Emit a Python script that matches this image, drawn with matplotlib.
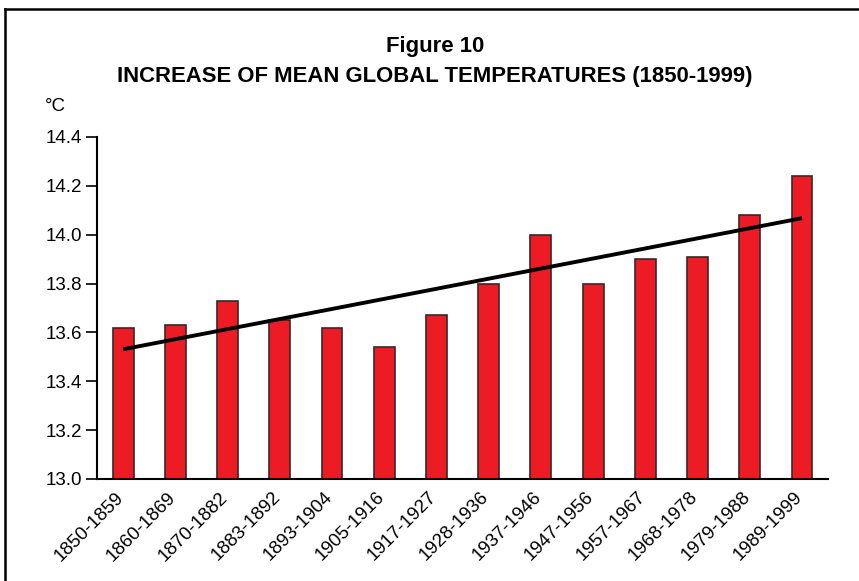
import numpy as np
import matplotlib
matplotlib.use('Agg')
import matplotlib.pyplot as plt
from matplotlib.lines import Line2D
from matplotlib.transforms import ScaledTranslation

periodos = ['1850-1859', '1860-1869', '1870-1882', '1883-1892', '1893-1904',
            '1905-1916', '1917-1927', '1928-1936', '1937-1946', '1947-1956',
            '1957-1967', '1968-1978', '1979-1988', '1989-1999']
temperaturas = [13.62, 13.63, 13.73, 13.65, 13.62, 13.54, 13.67,
                13.80, 14.00, 13.80, 13.90, 13.91, 14.08, 14.24]
y_ticks = [13.0, 13.2, 13.4, 13.6, 13.8, 14.0, 14.2, 14.4]

plt.rcParams['font.family'] = ['Liberation Sans', 'DejaVu Sans']

fig = plt.figure(figsize=(8.59, 5.81), dpi=100)
ax = fig.add_axes([0.113, 0.1756, 0.851, 0.5886])

x = np.arange(len(periodos))
ax.bar(x, [t - 13.0 for t in temperaturas], bottom=13.0, width=0.4,
       color='#ED1C24', edgecolor='#3b2626', linewidth=1.2)

# linea de tendencia (regresion lineal)
m, b = np.polyfit(x, temperaturas, 1)
ax.plot(x, m * x + b, color='black', linewidth=2.8, solid_capstyle='butt')

ax.set_xlim(-0.5, len(periodos) - 0.5)
ax.set_ylim(13.0, 14.4)
ax.set_yticks(y_ticks)
ax.set_yticklabels([f'{v:.1f}' for v in y_ticks], fontsize=13.5)
ax.set_xticks(x)
ax.tick_params(axis='x', length=0, pad=7)
ax.tick_params(axis='y', length=8, width=1.2, direction='out', pad=3)
ax.set_xticklabels(periodos, rotation=45, ha='right', rotation_mode='anchor',
                   fontsize=13.5)
offset = ScaledTranslation(-6 / 72, 0, fig.dpi_scale_trans)
for lbl in ax.get_xticklabels():
    lbl.set_transform(lbl.get_transform() + offset)
ax.spines['top'].set_visible(False)
ax.spines['right'].set_visible(False)
ax.spines['left'].set_linewidth(1.5)
ax.spines['bottom'].set_linewidth(1.5)

fig.text(0.506, 0.920, 'Figure 10', ha='center', va='center',
         fontsize=15.9, fontweight='bold')
fig.text(0.506, 0.868, 'INCREASE OF MEAN GLOBAL TEMPERATURES (1850-1999)',
         ha='center', va='center', fontsize=15.9, fontweight='bold')
fig.text(0.052, 0.816, '°C', ha='left', va='center', fontsize=13.5)

# borde superior e izquierdo
fig.add_artist(Line2D([0.006, 1.0], [0.9845, 0.9845], transform=fig.transFigure,
                      color='black', linewidth=1.8))
fig.add_artist(Line2D([0.006, 0.006], [0.0, 0.9845], transform=fig.transFigure,
                      color='black', linewidth=1.8))

fig.savefig('out.png', dpi=100)
